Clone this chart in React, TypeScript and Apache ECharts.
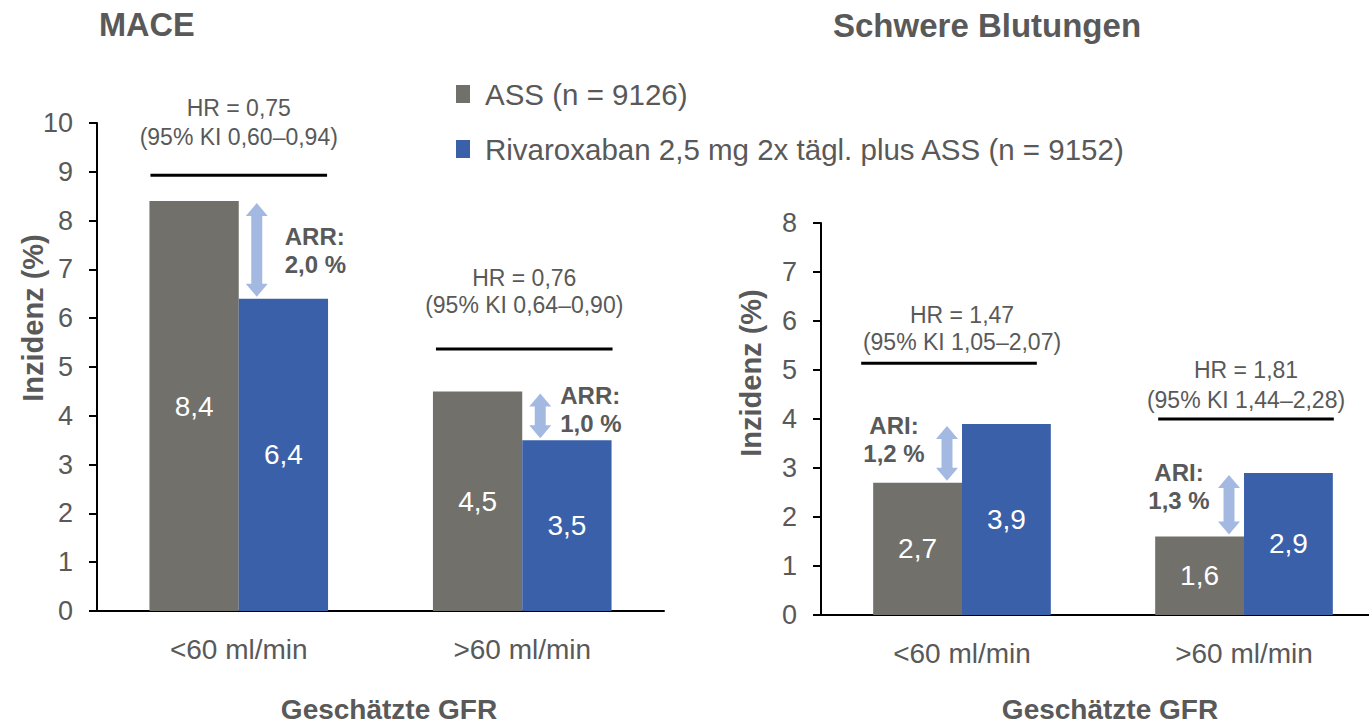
import React, { useEffect, useRef } from "react";
import * as echarts from "echarts";

// ---- data ----
const categories = ["<60 ml/min", ">60 ml/min"];
const assName = "ASS (n = 9126)";
const rivaName = "Rivaroxaban 2,5 mg 2x tägl. plus ASS (n = 9152)";

const maceAss = [8.4, 4.5];
const maceRiva = [6.4, 3.5];
const maceHr = ["HR = 0,75", "HR = 0,76"];
const maceCi = ["(95% KI 0,60–0,94)", "(95% KI 0,64–0,90)"];

const bleedAss = [2.7, 1.6];
const bleedRiva = [3.9, 2.9];
const bleedHr = ["HR = 1,47", "HR = 1,81"];
const bleedCi = ["(95% KI 1,05–2,07)", "(95% KI 1,44–2,28)"];

const maceAxisMax = 10;
const bleedAxisMax = 8;

// ---- styling ----
const FONT = "'Liberation Sans', Arial, Helvetica, sans-serif";
const TEXT = "#595959";
const GREY = "#71706B";
const BLUE = "#3A60AA";
const ARROW = "#A4B9E2";
const CATEGORY_GAP = 0.37;
const BAR_FRACTION = (1 - CATEGORY_GAP) / 2;

// annotation placement (value level of the HR bracket, pixel nudges)
const maceLayout = {
  bracket: [8.93, 5.37],
  bracketDx: [0, 2],
  textDx: [0, 2],
  hrOffset: [67, 71],
  ciOffset: [38, 44],
  arrowDx: 18,
  noteDx: [28, 20],
  noteDy: [33, 2],
  noteAlign: "left",
  noteLabel: "ARR:",
};
const bleedLayout = {
  bracket: [5.14, 4.0],
  bracketDx: [-13, 2],
  textDx: [0, 2],
  hrOffset: [48, 49],
  ciOffset: [21, 19],
  arrowDx: -15,
  noteDx: [-53, -50],
  noteDy: [0, -2],
  noteAlign: "center",
  noteLabel: "ARI:",
};

const fmt = (v: number) => v.toFixed(1).replace(".", ",");

function notesSeries(
  gridIndex: number,
  a: number[],
  b: number[],
  hr: string[],
  ci: string[],
  L: any
) {
  return {
    type: "custom",
    xAxisIndex: gridIndex,
    yAxisIndex: gridIndex,
    silent: true,
    z: 10,
    clip: false,
    data: categories.map((_, i) => [i, 0]),
    encode: { x: 0, y: 1 },
    renderItem: (params: any, api: any) => {
      const i = api.value(0);
      const band = api.size([1, 0])[0];
      const cx = api.coord([i, 0])[0];
      const py = (v: number) => api.coord([i, v])[1];
      const barW = band * BAR_FRACTION;

      const yb = py(L.bracket[i]);
      const bx = cx + L.bracketDx[i];
      const tx = cx + L.textDx[i];

      const hi = Math.max(a[i], b[i]);
      const lo = Math.min(a[i], b[i]);
      const yTop = py(hi) + 2;
      const yBot = py(lo) - 2;
      const ax = cx + L.arrowDx;
      const hw = 11;
      const sw = 5.5;
      const hl = 13;

      const small = { fontSize: 23, fontFamily: FONT, fill: TEXT, align: "center", verticalAlign: "middle" };
      const note = {
        fontSize: 24,
        fontWeight: "bold",
        fontFamily: FONT,
        fill: TEXT,
        align: L.noteAlign,
        verticalAlign: "middle",
      };
      const nx = ax + L.noteDx[i];
      const ny = yTop + L.noteDy[i];

      return {
        type: "group",
        children: [
          {
            type: "line",
            shape: { x1: bx - barW + 1, y1: yb, x2: bx + barW - 1, y2: yb },
            style: { stroke: "#000", lineWidth: 3 },
          },
          { type: "text", x: tx, y: yb - L.hrOffset[i], style: { ...small, text: hr[i] } },
          { type: "text", x: tx, y: yb - L.ciOffset[i], style: { ...small, text: ci[i] } },
          {
            type: "polygon",
            shape: {
              points: [
                [ax, yTop],
                [ax + hw, yTop + hl],
                [ax + sw, yTop + hl],
                [ax + sw, yBot - hl],
                [ax + hw, yBot - hl],
                [ax, yBot],
                [ax - hw, yBot - hl],
                [ax - sw, yBot - hl],
                [ax - sw, yTop + hl],
                [ax - hw, yTop + hl],
              ],
            },
            style: { fill: ARROW },
          },
          { type: "text", x: nx, y: ny, style: { ...note, text: L.noteLabel } },
          { type: "text", x: nx, y: ny + 28, style: { ...note, text: fmt(Math.abs(a[i] - b[i])) + " %" } },
        ],
      };
    },
  };
}

function barSeries(name: string, data: number[], color: string, gridIndex: number) {
  return {
    type: "bar",
    name,
    xAxisIndex: gridIndex,
    yAxisIndex: gridIndex,
    data,
    barGap: "0%",
    barCategoryGap: CATEGORY_GAP * 100 + "%",
    itemStyle: { color },
    label: {
      show: true,
      position: "inside",
      color: "#fff",
      fontSize: 28,
      fontFamily: FONT,
      formatter: (p: any) => fmt(p.value),
    },
  };
}

function xAxis(gridIndex: number) {
  return {
    type: "category",
    gridIndex,
    data: categories,
    axisLine: { lineStyle: { color: "#000", width: 2 } },
    axisTick: { length: 8, lineStyle: { color: "#000", width: 2 } },
    axisLabel: { color: TEXT, fontSize: 28, fontFamily: FONT, margin: 24 },
  };
}

function yAxis(gridIndex: number, max: number) {
  return {
    type: "value",
    gridIndex,
    min: 0,
    max,
    interval: 1,
    splitLine: { show: false },
    axisLine: { show: true, lineStyle: { color: "#000", width: 2 } },
    axisTick: { show: true, length: 8, lineStyle: { color: "#000", width: 2 } },
    axisLabel: { color: TEXT, fontSize: 27, fontFamily: FONT, margin: 24 },
  };
}

const heading = (text: string, x: number, y: number, align: string, size: number, rotation = 0) => ({
  type: "text",
  x,
  y,
  rotation,
  style: {
    text,
    fill: TEXT,
    fontSize: size,
    fontWeight: "bold",
    fontFamily: FONT,
    align,
    verticalAlign: "middle",
  },
});

export default function App() {
  const ref = useRef<HTMLDivElement>(null);

  useEffect(() => {
    if (!ref.current) return;
    const chart = echarts.init(ref.current, null, { renderer: "svg" });
    chart.setOption({
      animation: false,
      backgroundColor: "#fff",
      textStyle: { fontFamily: FONT },
      legend: {
        data: [assName, rivaName],
        orient: "vertical",
        left: 451,
        top: 74,
        itemWidth: 14,
        itemHeight: 18,
        itemGap: 25,
        icon: "rect",
        selectedMode: false,
        textStyle: { fontSize: 29.5, color: TEXT, fontFamily: FONT, lineHeight: 30, padding: [0, 0, 0, 10] },
      },
      grid: [
        { left: 97, top: 123, width: 567, height: 488, outerBoundsMode: "none", containLabel: false },
        { left: 821, top: 223, width: 564, height: 392, outerBoundsMode: "none", containLabel: false },
      ],
      xAxis: [xAxis(0), xAxis(1)],
      yAxis: [yAxis(0, maceAxisMax), yAxis(1, bleedAxisMax)],
      series: [
        barSeries(assName, maceAss, GREY, 0),
        barSeries(rivaName, maceRiva, BLUE, 0),
        barSeries(assName, bleedAss, GREY, 1),
        barSeries(rivaName, bleedRiva, BLUE, 1),
        notesSeries(0, maceAss, maceRiva, maceHr, maceCi, maceLayout),
        notesSeries(1, bleedRiva, bleedAss, bleedHr, bleedCi, bleedLayout),
      ],
      graphic: [
        heading("MACE", 99, 25, "left", 32.5),
        heading("Schwere Blutungen", 833, 25, "left", 33),
        heading("Inzidenz (%)", 33, 318, "center", 29, Math.PI / 2),
        heading("Inzidenz (%)", 751, 373, "center", 29, Math.PI / 2),
        heading("Geschätzte GFR", 389, 709, "center", 28),
        heading("Geschätzte GFR", 1110, 709, "center", 28),
      ],
    });
    return () => chart.dispose();
  }, []);

  return (
    <div
      ref={ref}
      style={{ position: "fixed", left: 0, top: 0, width: 1369, height: 725, background: "#fff" }}
    />
  );
}
